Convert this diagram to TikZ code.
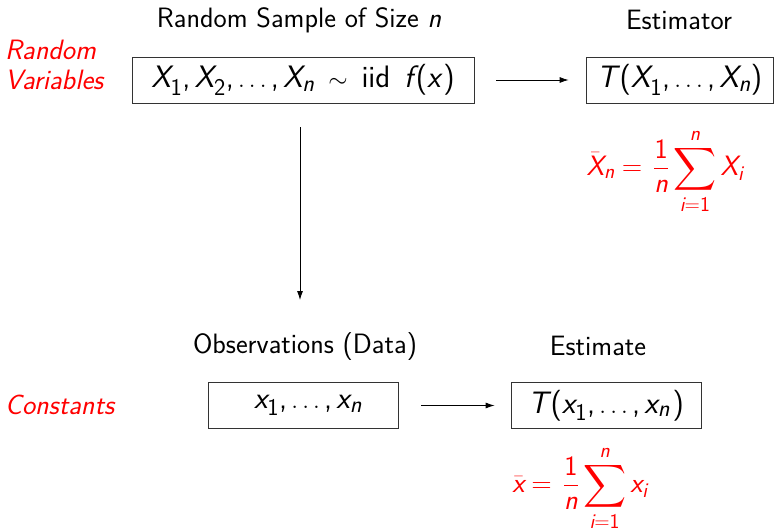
\documentclass[tikz,border=0pt]{standalone}
\usepackage{amsmath}
\usepackage{graphicx}
\usetikzlibrary{arrows.meta}
\renewcommand{\familydefault}{\sfdefault}
\DeclareSymbolFont{sfop}{TU}{lmss}{m}{n}
\DeclareSymbolFont{sfit}{TU}{lmss}{m}{it}
\DeclareMathSymbol{X}{\mathalpha}{sfit}{`X}
\DeclareMathSymbol{T}{\mathalpha}{sfit}{`T}
\DeclareMathSymbol{n}{\mathalpha}{sfit}{`n}
\DeclareMathSymbol{x}{\mathalpha}{sfit}{`x}
\DeclareMathSymbol{f}{\mathalpha}{sfit}{`f}
\DeclareMathSymbol{i}{\mathalpha}{sfit}{`i}
\DeclareMathSymbol{1}{\mathalpha}{sfop}{`1}
\DeclareMathSymbol{2}{\mathalpha}{sfop}{`2}
\DeclareMathSymbol{(}{\mathopen}{sfop}{`(}
\DeclareMathSymbol{)}{\mathclose}{sfop}{`)}
\DeclareMathSymbol{=}{\mathrel}{sfop}{`=}
\DeclareMathSymbol{,}{\mathpunct}{sfop}{`,}
\DeclareMathSizes{28}{28}{21}{16}
\DeclareMathSizes{31}{31}{24}{18}
\newcommand{\ic}{\mkern2mu}
\newcommand{\bigsum}{\mathop{\vcenter{\hbox{\scalebox{1.2}{$\displaystyle\sum$}}}}\limits}
\begin{document}
\begin{tikzpicture}[x=1pt,y=-1pt,
  lbl/.style={font=\fontsize{28}{30}\selectfont\sffamily, inner sep=0pt},
  side/.style={font=\fontsize{28}{30}\selectfont\sffamily\itshape, text=red, align=left, inner sep=0pt},
  box/.style={draw=black!80, line width=0.8pt, minimum height=46pt, inner sep=2pt, font=\fontsize{31}{33}\selectfont\sffamily},
  red formula/.style={text=red, inner sep=0pt, font=\fontsize{28}{30}\selectfont\sffamily},
  arr/.style={-{Latex[length=9pt,width=6pt]}, line width=0.8pt}]
\useasboundingbox (0,0) rectangle (776,529);
% top row
\node[lbl] (lbl1) at (299,20) {Random Sample of Size $n$};
\node[lbl] (lbl2) at (679,20) {Estimator};
\node[side, anchor=west] (rv) at (5,65) {Random\\Variables};
\node[box, minimum width=342pt] (box1) at (303,80) {$X_1, X_2, \ldots, X_n \;\sim\; \text{iid}\ \, f\ic(x\ic)$};
\node[box, minimum width=187pt] (box2) at (679.5,80) {$T\ic(X_1, \ldots, X_n)$};
\node[red formula] (f1) at (665,171) {$\displaystyle \bar{X}_n = \,\frac{1}{n}\bigsum_{i=1}^{n} X_i$};
% bottom row
\node[lbl] (obs) at (305,347) {Observations (Data)};
\node[lbl] (est) at (598,346) {Estimate};
\node[side, anchor=west] (const) at (5,405) {Constants};
\node[box, minimum width=190pt] (box3) at (303,405.5) {\hspace*{10pt}$x_1, \ldots, x_n$};
\node[box, minimum width=190pt] (box4) at (606,405.5) {$T\ic(x_1, \ldots, x_n\ic)$};
\node[red formula] (f2) at (580,488) {$\displaystyle \bar{x} = \,\frac{1}{n}\bigsum_{i=1}^{n} x_i$};
% connectors
\draw[arr, shorten <=22pt, shorten >=17pt] (box1.east) -- (box2.west);
\draw[arr, shorten <=23pt, shorten >=16pt] (box3.east) -- (box4.west);
\draw[arr, shorten <=24pt] (box1.south -| 300,0) -- (300,300);
\end{tikzpicture}
\end{document}
